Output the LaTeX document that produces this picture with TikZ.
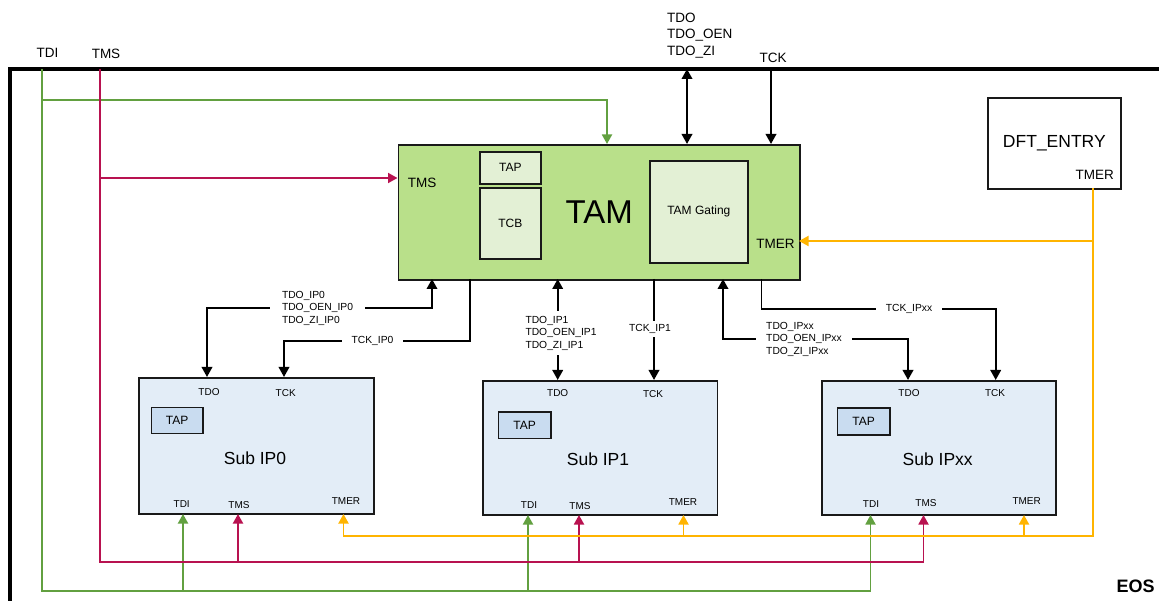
\documentclass[tikz,border=0pt]{standalone}
\usepackage{fontspec}
\setmainfont{Liberation Sans}
\usepackage{tikz}
\usetikzlibrary{arrows.meta,calc}
\definecolor{ctdi}{RGB}{98,160,64}
\definecolor{ctms}{RGB}{184,18,80}
\definecolor{ctmer}{RGB}{255,180,0}
\definecolor{tamfill}{RGB}{185,224,138}
\definecolor{tamsub}{RGB}{227,240,213}
\definecolor{ipfill}{RGB}{227,237,247}
\definecolor{ipsub}{RGB}{201,220,240}
\newcommand{\fsz}[2]{\fontsize{#1}{#2}\selectfont}

\begin{document}
\begin{tikzpicture}[x=1pt,y=-1pt,line cap=butt,line join=miter,
  blk/.style={draw=black!90,line width=1.7pt,inner sep=0pt,anchor=north west},
  pin/.style={font=\fsz{10}{12},inner sep=0pt},
  bigpin/.style={font=\fsz{13.5}{16.5},inner sep=0pt},
  sig/.style={black,line width=1.9pt},
  siglbl/.style={font=\fsz{10.3}{12.5},fill=white,align=left,inner xsep=11pt,inner ysep=2pt},
  wire/.style={line width=1.8pt,-{Triangle[length=9.5pt,width=10pt]}},
  wiretdi/.style={wire,ctdi},
  wiretms/.style={wire,ctms},
  wiretmer/.style={wire,ctmer},
  onehead/.style={-{Triangle[length=10pt,width=10.5pt]}},
  twohead/.style={{Triangle[length=10pt,width=10.5pt]}-{Triangle[length=10pt,width=10.5pt]}}]

\useasboundingbox (0,0) rectangle (1159,601);

% =============================== EOS frame ================================
\draw[line width=4pt] (9.5,601) -- (9.5,69) -- (1159,69);
\node[font=\fsz{18}{20}\bfseries,inner sep=0pt] (eos) at (1135.5,586) {EOS};

% =============================== blocks ===================================
\node[blk,line width=1.9pt,fill=tamfill,minimum width=401.5pt,minimum height=135pt,
      font=\fsz{33}{36}] (tam) at (397.5,144) {TAM};
\node[blk,fill=tamsub,minimum width=61pt,minimum height=32pt,font=\fsz{12}{14}]
  (tamtap) at (479,151) {TAP};
\node[blk,fill=tamsub,minimum width=61pt,minimum height=71pt,font=\fsz{12}{14}]
  (tcb) at (479,187) {TCB};
\node[blk,fill=tamsub,minimum width=98pt,minimum height=102pt,font=\fsz{12}{14}]
  (gating) at (649,160) {TAM Gating};
\node[bigpin] (tamtms)  at (422,183) {TMS};
\node[bigpin] (tamtmer) at (775.5,244) {TMER};

\node[blk,fill=white,minimum width=133pt,minimum height=91pt,font=\fsz{17.5}{20}]
  (dft) at (987,97) {DFT\_ENTRY};
\node[bigpin,anchor=east] (dfttmer) at (1114,175) {TMER};

% sub IPs
\node[blk,fill=ipfill,minimum width=235pt,minimum height=136pt] (sub0) at (138,377) {};
\node[blk,fill=ipfill,minimum width=234.7pt,minimum height=134pt] (sub1) at (482,380) {};
\node[blk,fill=ipfill,minimum width=234pt,minimum height=134pt] (subx) at (821,380) {};

\node[blk,fill=ipsub,minimum width=51.3pt,minimum height=26pt,font=\fsz{12}{14}]
  (tap0) at (150.7,406.7) {TAP};
\node[blk,fill=ipsub,minimum width=52.3pt,minimum height=26.7pt,font=\fsz{12}{14}]
  (tap1) at (497.7,411) {TAP};
\node[blk,fill=ipsub,minimum width=52.3pt,minimum height=27pt,font=\fsz{12}{14}]
  (tapx) at (836.7,407) {TAP};

\node[font=\fsz{17.5}{20},inner sep=0pt] (name0) at (255,458) {Sub IP0};
\node[font=\fsz{17.5}{20},inner sep=0pt] (name1) at (598,459) {Sub IP1};
\node[font=\fsz{17.5}{20},inner sep=0pt] (namex) at (937.7,459) {Sub IPxx};

% port labels of the sub IPs
\node[pin] (p0tdo)  at (209,392)   {TDO};
\node[pin] (p0tck)  at (285.7,393) {TCK};
\node[pin] (p0tdi)  at (181.7,504) {TDI};
\node[pin] (p0tms)  at (239,505)   {TMS};
\node[pin] (p0tmer) at (346,501)   {TMER};
\node[pin] (p1tdo)  at (557.7,393) {TDO};
\node[pin] (p1tck)  at (653,394)   {TCK};
\node[pin] (p1tdi)  at (529,505)   {TDI};
\node[pin] (p1tms)  at (580,506)   {TMS};
\node[pin] (p1tmer) at (683,502)   {TMER};
\node[pin] (pxtdo)  at (909,393)   {TDO};
\node[pin] (pxtck)  at (995,393)   {TCK};
\node[pin] (pxtdi)  at (871,504)   {TDI};
\node[pin] (pxtms)  at (926,503)   {TMS};
\node[pin] (pxtmer) at (1026.7,501) {TMER};

% =============================== pins =====================================
\coordinate (TDIin)  at (42,69);
\coordinate (TMSin)  at (100,69);
\coordinate (TDObus) at (687,69);
\coordinate (TCKin)  at (771,69);
\coordinate (tamTDI) at (607,144);
\coordinate (tamTDO) at (687,144);
\coordinate (tamTCK) at (771,144);
\coordinate (tamTMS) at (397.5,178);
\coordinate (tamTMR) at (799,241);
\coordinate (dftTMR) at (1093,188);
\coordinate (tamIP0) at (432,279);
\coordinate (tamCK0) at (470,279);
\coordinate (tamIP1) at (557.7,279);
\coordinate (tamCK1) at (654,279);
\coordinate (tamIPx) at (723,279);
\coordinate (tamCKx) at (761.5,279);
\coordinate (s0TDO)  at (207,377);
\coordinate (s0TCK)  at (284,377);
\coordinate (s1TDO)  at (557.7,380);
\coordinate (s1TCK)  at (654,380);
\coordinate (sxTDO)  at (908,380);
\coordinate (sxTCK)  at (995.7,380);
\coordinate (s0TDI)  at (183,514);
\coordinate (s0TMS)  at (238,514);
\coordinate (s0TMR)  at (343.5,514);
\coordinate (s1TDI)  at (528,515);
\coordinate (s1TMS)  at (579,515);
\coordinate (s1TMR)  at (683.5,515);
\coordinate (sxTDI)  at (870.5,515);
\coordinate (sxTMS)  at (923.5,515);
\coordinate (sxTMR)  at (1024,515);

% =============================== chip pins ================================
\node[bigpin] (tdilbl) at (47.5,53) {TDI};
\node[bigpin] (tmslbl) at (106,54) {TMS};
\node[bigpin,align=left,anchor=west] (tdolbl) at (667,35.5) {TDO\\TDO\_OEN\\TDO\_ZI};
\node[bigpin] (tcklbl) at (773,58) {TCK};

% =============================== TDI / TMS / TMER =========================
% TDI (green)
\draw[wiretdi] (TDIin) -- (42,591) -| (sxTDI);
\draw[wiretdi] (42,100) -| (tamTDI);
\draw[wiretdi] (183,591) -- (s0TDI);
\draw[wiretdi] (528,591) -- (s1TDI);

% TMS (red)
\draw[wiretms] (TMSin) -- (100,562) -| (sxTMS);
\draw[wiretms] (100,178) -- (tamTMS);
\draw[wiretms] (238,562) -- (s0TMS);
\draw[wiretms] (579,562) -- (s1TMS);

% TMER (orange)
\draw[wiretmer] (dftTMR) -- (1093,536) -| (s0TMR);
\draw[wiretmer] (1093,241) -- (tamTMR);
\draw[wiretmer] (683.5,536) -- (s1TMR);
\draw[wiretmer] (1024,536) -- (sxTMR);

% =============================== TDO / TCK ================================
\draw[sig,twohead] (TDObus) -- (tamTDO);
\draw[sig,onehead] (TCKin) -- (tamTCK);

% sub IP0
\draw[sig,twohead] (tamIP0) |- (207,308) -- (s0TDO);
\node[siglbl,inner xsep=12pt] (lblIP0) at (317.5,308) {TDO\_IP0\\TDO\_OEN\_IP0\\TDO\_ZI\_IP0};
\draw[sig,onehead] (tamCK0) |- (284,341) -- (s0TCK);
\node[siglbl,inner xsep=10pt] (lblCK0) at (372.5,341) {TCK\_IP0};

% sub IP1
\draw[sig,twohead] (tamIP1) -- (s1TDO);
\node[siglbl,inner xsep=1pt,inner ysep=5pt] (lblIP1) at (561,333) {TDO\_IP1\\TDO\_OEN\_IP1\\TDO\_ZI\_IP1};
\draw[sig,onehead] (tamCK1) -- (s1TCK);
\node[siglbl,inner xsep=1pt,inner ysep=3pt] (lblCK1) at (650,329) {TCK\_IP1};

% sub IPxx
\draw[sig,twohead] (tamIPx) |- (908,339) -- (sxTDO);
\node[siglbl,inner xsep=10pt] (lblIPx) at (804,339) {TDO\_IPxx\\TDO\_OEN\_IPxx\\TDO\_ZI\_IPxx};
\draw[sig,onehead] (tamCKx) |- (995.7,309) -- (sxTCK);
\node[siglbl,inner xsep=10pt] (lblCKx) at (909,309) {TCK\_IPxx};

\end{tikzpicture}
\end{document}
